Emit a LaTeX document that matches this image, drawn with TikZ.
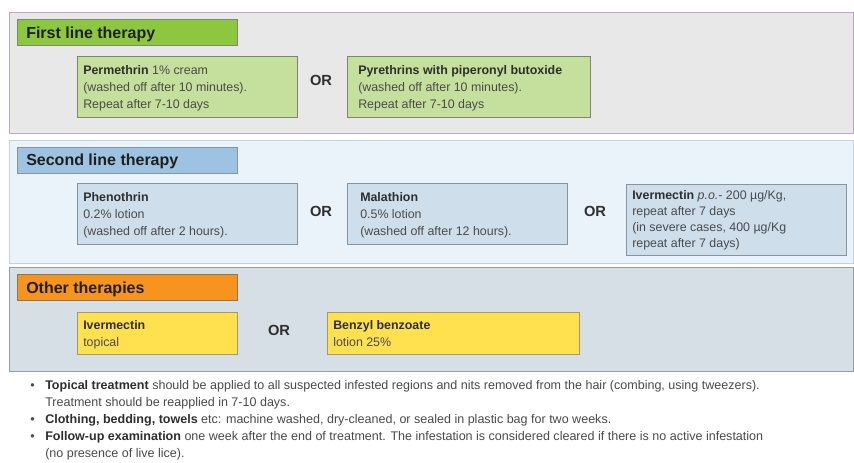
\documentclass[tikz,border=0pt]{standalone}
\usepackage{fontspec}
\setmainfont{Liberation Sans}
\definecolor{secAfill}{HTML}{E8E8E8}
\definecolor{secAdraw}{HTML}{C6A3C6}
\definecolor{titleA}{HTML}{8DC63F}
\definecolor{boxA}{HTML}{C5DF9D}
\definecolor{edgeA}{HTML}{7C876F}
\definecolor{secBfill}{HTML}{EBF3FA}
\definecolor{secBdraw}{HTML}{C3D1DC}
\definecolor{titleB}{HTML}{9EC3E2}
\definecolor{boxB}{HTML}{CFDEEB}
\definecolor{edgeB}{HTML}{87939D}
\definecolor{secCfill}{HTML}{D7DFE6}
\definecolor{secCdraw}{HTML}{949EA4}
\definecolor{titleC}{HTML}{F7941D}
\definecolor{boxC}{HTML}{FFE150}
\definecolor{edgeC}{HTML}{A39A6A}
\definecolor{txtbody}{HTML}{4A4A4A}
\definecolor{txtbold}{HTML}{2E2E2E}
\begin{document}
\begin{tikzpicture}[x=0.75pt,y=-0.75pt,
  sec/.style={anchor=north west, inner sep=0pt, minimum width=633pt, line width=0.8pt},
  ttl/.style={anchor=north west, inner sep=0pt, minimum width=165pt, minimum height=19.5pt, line width=0.6pt},
  bx/.style={anchor=north west, inner sep=0pt, line width=0.6pt},
  ttltxt/.style={anchor=base west, inner sep=0pt, font=\fontsize{12}{14}\selectfont\bfseries, text=black!88},
  btxt/.style={anchor=north west, inner sep=0pt, align=left, yshift=8.925pt,
    font=\fontsize{9.3}{12.75}\selectfont, text=txtbody},
  ortxt/.style={anchor=base, inner sep=0pt, font=\fontsize{11}{13}\selectfont\bfseries, text=txtbold},
  ltxt/.style={anchor=north west, inner sep=0pt, align=left, yshift=8.925pt,
    font=\fontsize{9.4}{12.75}\selectfont, text=txtbody},
  bul/.style={anchor=base west, inner sep=0pt, font=\fontsize{9.4}{12.75}\selectfont, text=txtbody}
]
\useasboundingbox (0,0) rectangle (854,462);
\fill[white] (0,0) rectangle (854,462);
\newcommand{\B}[1]{\textbf{\textcolor{txtbold}{#1}}}

% ---------- Section 1 ----------
\node[sec, draw=secAdraw, fill=secAfill, minimum height=90.75pt] (secA) at (9,12) {};
\node[ttl, draw=edgeA, fill=titleA] (ttlA) at (17,19) {};
\node[ttltxt] (ttlAt) at (26,38.5) {First line therapy};
\node[bx, draw=edgeA, fill=boxA, minimum width=165pt, minimum height=45.75pt] (perm) at (77,56) {};
\node[btxt] (permt) at (83,74.5) {\strut\B{Permethrin} 1\% cream\\(washed off after 10 minutes).\\Repeat after 7-10 days};
\node[ortxt] (orA) at (321,85) {OR};
\node[bx, draw=edgeA, fill=boxA, minimum width=182.25pt, minimum height=45.75pt] (pyr) at (347,56) {};
\node[btxt] (pyrt) at (358,74.5) {\strut\B{Pyrethrins with piperonyl butoxide}\\(washed off after 10 minutes).\\Repeat after 7-10 days};

% ---------- Section 2 ----------
\node[sec, draw=secBdraw, fill=secBfill, minimum height=92.25pt] (secB) at (9,140) {};
\node[ttl, draw=edgeB, fill=titleB] (ttlB) at (17,147) {};
\node[ttltxt] (ttlBt) at (26,165.5) {Second line therapy};
\node[bx, draw=edgeB, fill=boxB, minimum width=165pt, minimum height=45.75pt] (phen) at (77,183) {};
\node[btxt] (phent) at (83,201.5) {\strut\B{Phenothrin}\\0.2\% lotion\\(washed off after 2 hours).};
\node[ortxt] (orB1) at (321,216) {OR};
\node[bx, draw=edgeB, fill=boxB, minimum width=165pt, minimum height=45.75pt] (mala) at (347,183) {};
\node[btxt] (malat) at (360,201.5) {\strut\B{Malathion}\\0.5\% lotion\\(washed off after 12 hours).};
\node[ortxt] (orB2) at (595,216) {OR};
\node[bx, draw=edgeB, fill=boxB, minimum width=165pt, minimum height=53.25pt] (iverpo) at (626,184) {};
\node[btxt, font=\fontsize{9.3}{12}\selectfont] (iverpot) at (632,200) {\strut\B{Ivermectin} \textit{p.o.}- 200 µg/Kg,\\repeat after 7 days\\(in severe cases, 400 µg/Kg\\repeat after 7 days)};

% ---------- Section 3 ----------
\node[sec, draw=secCdraw, fill=secCfill, minimum height=78pt, line width=1.1pt] (secC) at (9,267) {};
\node[ttl, draw=edgeC!80!black, fill=titleC] (ttlC) at (17,274) {};
\node[ttltxt] (ttlCt) at (26,293.5) {Other therapies};
\node[bx, draw=edgeC, fill=boxC, minimum width=120pt, minimum height=31.5pt] (ivtop) at (77,312) {};
\node[btxt] (ivtopt) at (83,329.5) {\strut\B{Ivermectin}\\topical};
\node[ortxt] (orC) at (279,335) {OR};
\node[bx, draw=edgeC, fill=boxC, minimum width=189pt, minimum height=31.5pt] (benz) at (327,312) {};
\node[btxt] (benzt) at (333,329.5) {\strut\B{Benzyl benzoate}\\lotion 25\%};

% ---------- Notes ----------
\node[bul] (b1) at (30,389.5) {•};
\node[ltxt] (n1) at (45,389.5) {\strut\B{Topical treatment} should be applied to all suspected infested regions and nits removed from the hair (combing, using tweezers).\\Treatment should be reapplied in 7-10 days.};
\node[bul] (b2) at (30,423.5) {•};
\node[ltxt] (n2) at (45,423.5) {\strut\B{Clothing, bedding, towels} etc: machine washed, dry-cleaned, or sealed in plastic bag for two weeks.};
\node[bul] (b3) at (30,440.5) {•};
\node[ltxt] (n3) at (45,440.5) {\strut\B{Follow-up examination} one week after the end of treatment. The infestation is considered cleared if there is no active infestation\\(no presence of live lice).};
\end{tikzpicture}
\end{document}
